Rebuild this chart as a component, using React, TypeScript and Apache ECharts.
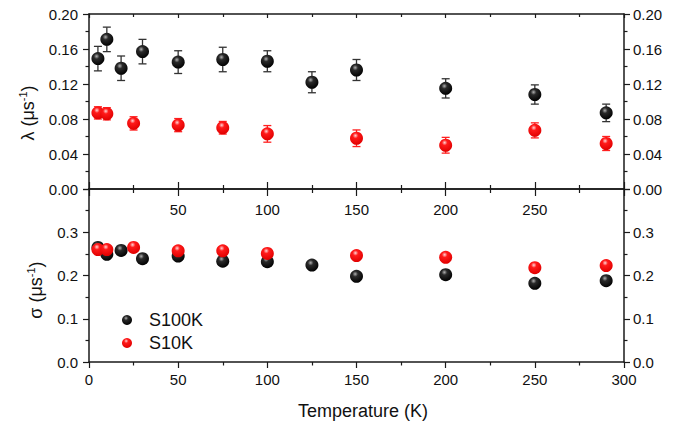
import React, { useEffect, useRef } from "react";
import * as echarts from "echarts";

// Temperatures (K) and fitted muon relaxation parameters
const temps100 = [5, 10, 18, 30, 50, 75, 100, 125, 150, 200, 250, 290];
const lambda100 = [0.149, 0.171, 0.138, 0.157, 0.145, 0.148, 0.146, 0.122, 0.136, 0.115, 0.108, 0.087];
const lambda100Err = [0.014, 0.014, 0.014, 0.014, 0.013, 0.014, 0.012, 0.012, 0.012, 0.011, 0.011, 0.010];
const sigma100 = [0.265, 0.249, 0.258, 0.239, 0.245, 0.233, 0.232, 0.224, 0.198, 0.202, 0.182, 0.188];
const sigma100Err = [0.008, 0.008, 0.007, 0.008, 0.006, 0.007, 0.006, 0.006, 0.007, 0.006, 0.005, 0.005];

const temps10 = [5, 10, 25, 50, 75, 100, 150, 200, 250, 290];
const lambda10 = [0.087, 0.086, 0.075, 0.073, 0.070, 0.063, 0.058, 0.050, 0.067, 0.052];
const lambda10Err = [0.007, 0.007, 0.0076, 0.0075, 0.0072, 0.0095, 0.0095, 0.009, 0.0086, 0.008];
const sigma10 = [0.260, 0.260, 0.265, 0.257, 0.257, 0.251, 0.246, 0.242, 0.218, 0.223];
const sigma10Err = [0.004, 0.004, 0.004, 0.004, 0.004, 0.004, 0.004, 0.004, 0.004, 0.004];

const seriesNames = ["S100K", "S10K"];
const xTitle = "Temperature (K)";

const FONT = "'Liberation Sans', Arial, sans-serif";
const AXIS_COLOR = "#1a1a1a";

const blackBall = new echarts.graphic.RadialGradient(0.4, 0.32, 0.7, [
  { offset: 0, color: "#b0b0b0" },
  { offset: 0.3, color: "#2a2a2a" },
  { offset: 1, color: "#000000" },
]);
const redBall = new echarts.graphic.RadialGradient(0.42, 0.3, 0.7, [
  { offset: 0, color: "#ffd6d6" },
  { offset: 0.3, color: "#ff1a1a" },
  { offset: 1, color: "#e00000" },
]);

const points = (xs: number[], ys: number[]) => xs.map((x, i) => [x, ys[i]]);
const bars = (xs: number[], ys: number[], es: number[]) =>
  xs.map((x, i) => [x, ys[i] - es[i], ys[i] + es[i]]);

const errorSeries = (data: number[][], color: string, xi: number, yi: number) => ({
  type: "custom",
  name: "err",
  xAxisIndex: xi,
  yAxisIndex: yi,
  data,
  encode: { x: 0, y: [1, 2] },
  silent: true,
  renderItem: (params: any, api: any) => {
    const x = api.value(0);
    const top = api.coord([x, api.value(2)]);
    const bot = api.coord([x, api.value(1)]);
    const hw = 4;
    const style = { stroke: color, lineWidth: 1.3 };
    return {
      type: "group",
      children: [
        { type: "line", shape: { x1: top[0], y1: top[1], x2: bot[0], y2: bot[1] }, style },
        { type: "line", shape: { x1: top[0] - hw, y1: top[1], x2: top[0] + hw, y2: top[1] }, style },
        { type: "line", shape: { x1: bot[0] - hw, y1: bot[1], x2: bot[0] + hw, y2: bot[1] }, style },
      ],
    };
  },
});

const scatterSeries = (name: string, data: number[][], color: any, xi: number, yi: number) => ({
  type: "scatter",
  name,
  xAxisIndex: xi,
  yAxisIndex: yi,
  data,
  symbol: "circle",
  symbolSize: 13,
  itemStyle: { color, opacity: 1 },
});

const baseX = {
  type: "value",
  min: 0,
  max: 300,
  interval: 50,
  splitLine: { show: false },
  axisLine: { show: true, onZero: false, lineStyle: { color: AXIS_COLOR, width: 1.5 } },
  minorTick: { show: true, splitNumber: 2, length: 3.5, lineStyle: { color: AXIS_COLOR, width: 1.2 } },
  axisLabel: { color: "#111", fontSize: 15, fontFamily: FONT, margin: 12 },
};

const baseY = {
  type: "value",
  splitLine: { show: false },
  axisLine: { show: true, onZero: false, lineStyle: { color: AXIS_COLOR, width: 1.5 } },
  axisTick: { show: true, length: 6, lineStyle: { color: AXIS_COLOR, width: 1.2 } },
  minorTick: { show: true, splitNumber: 2, length: 3.5, lineStyle: { color: AXIS_COLOR, width: 1.2 } },
};

export default function App() {
  const ref = useRef<HTMLDivElement>(null);

  useEffect(() => {
    if (!ref.current) return;
    const chart = echarts.init(ref.current, null, { renderer: "svg" });

    const lambdaLabel = (v: number) => v.toFixed(2);
    const sigmaLabel = (v: number) => (v > 0.35 ? "" : v.toFixed(1));

    chart.setOption({
      animation: false,
      backgroundColor: "#ffffff",
      grid: [
        { left: 89, right: 64, top: 14, height: 175 },
        { left: 89, right: 64, top: 189, height: 173 },
      ],
      xAxis: [
        {
          ...baseX,
          gridIndex: 0,
          position: "bottom",
          axisTick: { show: true, inside: true, length: 7, lineStyle: { color: AXIS_COLOR, width: 1.2 } },
          minorTick: { ...baseX.minorTick, length: 4 },
          axisLabel: {
            ...baseX.axisLabel,
            margin: 13,
            formatter: (v: number) => (v === 0 || v === 300 ? "" : String(v)),
          },
        },
        {
          ...baseX,
          gridIndex: 0,
          position: "top",
          axisTick: { show: true, inside: true, length: 4, lineStyle: { color: AXIS_COLOR, width: 1.2 } },
          minorTick: { ...baseX.minorTick, length: 3 },
          axisLabel: { show: false },
        },
        {
          ...baseX,
          gridIndex: 1,
          position: "bottom",
          axisTick: { show: true, inside: false, length: 6, lineStyle: { color: AXIS_COLOR, width: 1.2 } },
          axisLabel: { ...baseX.axisLabel, margin: 10 },
        },
        {
          ...baseX,
          gridIndex: 1,
          position: "top",
          axisTick: { show: true, inside: true, length: 7, lineStyle: { color: AXIS_COLOR, width: 1.2 } },
          minorTick: { ...baseX.minorTick, length: 4 },
          axisLabel: { show: false },
        },
      ],
      yAxis: [
        {
          ...baseY,
          gridIndex: 0,
          position: "left",
          min: 0,
          max: 0.2,
          interval: 0.04,
          axisLabel: { color: "#111", fontSize: 15, fontFamily: FONT, margin: 11, formatter: lambdaLabel },
        },
        {
          ...baseY,
          gridIndex: 0,
          position: "right",
          min: 0,
          max: 0.2,
          interval: 0.04,
          axisLabel: { color: "#111", fontSize: 15, fontFamily: FONT, margin: 9, formatter: lambdaLabel },
        },
        {
          ...baseY,
          gridIndex: 1,
          position: "left",
          min: 0,
          max: 0.4,
          interval: 0.1,
          axisLabel: { color: "#111", fontSize: 15, fontFamily: FONT, margin: 11, formatter: sigmaLabel },
        },
        {
          ...baseY,
          gridIndex: 1,
          position: "right",
          min: 0,
          max: 0.4,
          interval: 0.1,
          axisLabel: { color: "#111", fontSize: 15, fontFamily: FONT, margin: 9, formatter: sigmaLabel },
        },
      ],
      legend: {
        data: seriesNames,
        orient: "vertical",
        left: 117,
        top: 306,
        itemWidth: 10,
        itemHeight: 10,
        itemGap: 5,
        icon: "circle",
        selectedMode: false,
        textStyle: { fontSize: 18, fontFamily: FONT, color: "#111", padding: [0, 0, 0, 12] },
      },
      graphic: [
        {
          type: "text",
          x: 27,
          y: 113,
          rotation: Math.PI / 2,
          style: {
            text: "{n|λ (μs}{s|-1}{n|)}",
            align: "center",
            verticalAlign: "middle",
            fill: "#111",
            rich: {
              n: { fontSize: 18, fontFamily: FONT, lineHeight: 20, verticalAlign: "bottom", fill: "#111" },
              s: { fontSize: 11, fontFamily: FONT, lineHeight: 20, verticalAlign: "top", fill: "#111" },
            },
          },
        },
        {
          type: "text",
          x: 35,
          y: 290,
          rotation: Math.PI / 2,
          style: {
            text: "{n|σ (μs}{s|-1}{n|)}",
            align: "center",
            verticalAlign: "middle",
            fill: "#111",
            rich: {
              n: { fontSize: 18, fontFamily: FONT, lineHeight: 20, verticalAlign: "bottom", fill: "#111" },
              s: { fontSize: 11, fontFamily: FONT, lineHeight: 20, verticalAlign: "top", fill: "#111" },
            },
          },
        },
        {
          type: "text",
          x: 363,
          y: 411,
          style: {
            text: xTitle,
            align: "center",
            verticalAlign: "middle",
            fontSize: 18,
            fontFamily: FONT,
            fill: "#111",
          },
        },
      ],
      series: [
        errorSeries(bars(temps100, lambda100, lambda100Err), "#333333", 0, 0),
        errorSeries(bars(temps10, lambda10, lambda10Err), "#ff2020", 0, 0),
        errorSeries(bars(temps100, sigma100, sigma100Err), "#333333", 2, 2),
        errorSeries(bars(temps10, sigma10, sigma10Err), "#ff2020", 2, 2),
        scatterSeries(seriesNames[0], points(temps100, lambda100), blackBall, 0, 0),
        scatterSeries(seriesNames[1], points(temps10, lambda10), redBall, 0, 0),
        scatterSeries(seriesNames[0], points(temps100, sigma100), blackBall, 2, 2),
        scatterSeries(seriesNames[1], points(temps10, sigma10), redBall, 2, 2),
      ],
    });

    return () => chart.dispose();
  }, []);

  return <div ref={ref} style={{ width: 688, height: 424, position: "absolute", left: 0, top: 0 }} />;
}
